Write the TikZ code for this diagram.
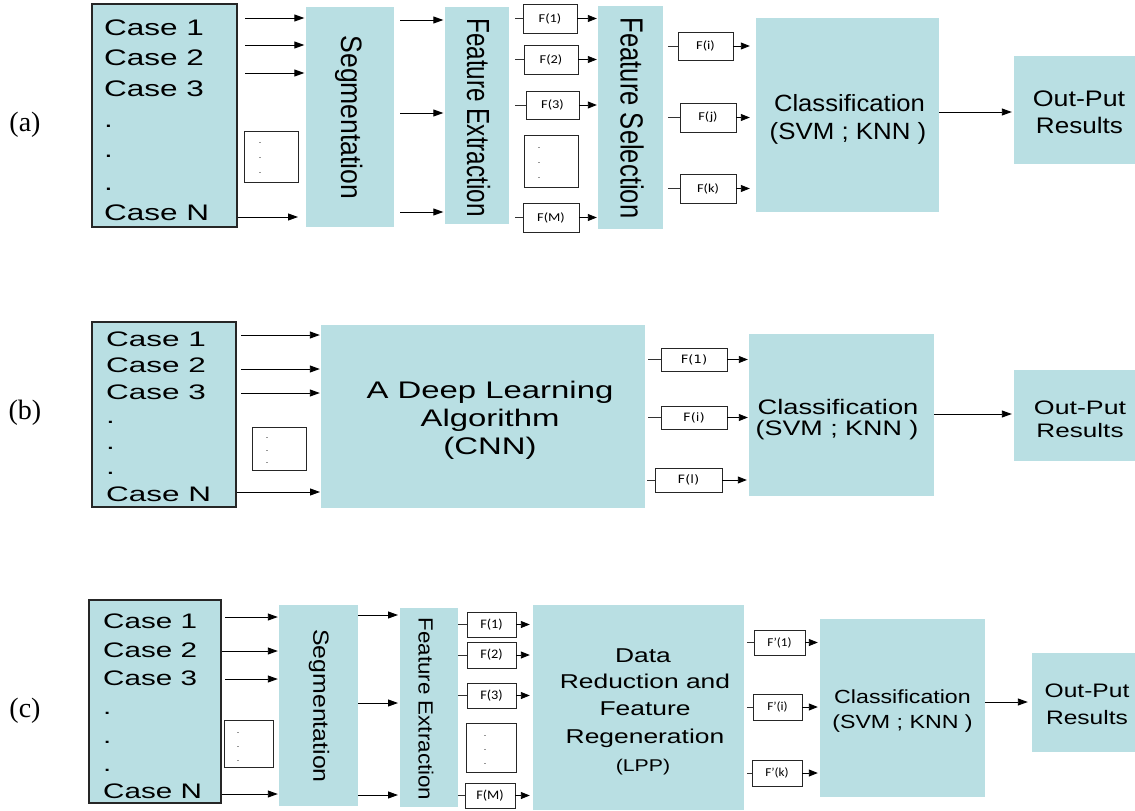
\documentclass[tikz,border=0pt]{standalone}
\usepackage{fontspec}
\setmainfont{Liberation Sans}
\newfontfamily\labelserif{Liberation Serif}
\newfontfamily\featfont{Carlito}
\newfontfamily\featfontb{DejaVu Sans}
\usepackage{graphicx}
\usetikzlibrary{arrows.meta}
\definecolor{boxteal}{RGB}{185,223,227}
% size, horizontal stretch, text
\newcommand\sizedtext[3]{{\fontsize{#1}{#1}\selectfont\scalebox{#2}[1]{#3}}}

\begin{document}
\begin{tikzpicture}[x=1pt,y=-1pt,
  tealbox/.style={rectangle, fill=boxteal, draw=none, inner sep=0pt},
  casebox/.style={rectangle, fill=boxteal, draw=black!85, line width=1.1pt, inner sep=0pt},
  featbox/.style={rectangle, fill=white, draw=black!85, line width=0.9pt, inner sep=0pt},
  txt/.style={inner sep=0pt, anchor=base},
  casetxt/.style={inner sep=0pt, anchor=base west},
  vtxt/.style={inner sep=0pt, rotate=-90},
  dotcol/.style={inner sep=0pt, align=center, font=\fontsize{9}{#1}\selectfont},
  panellabel/.style={inner sep=0pt, font=\labelserif\fontsize{28}{28}\selectfont},
  arr/.style={draw=black, line width=0.9pt, -{Triangle[length=10pt,width=7pt]}},
  farr/.style={draw=black, line width=0.9pt, -{Triangle[length=9pt,width=7pt]}},
  stub/.style={draw=black!80, line width=0.9pt}]
\useasboundingbox (0,0) rectangle (1135,811);

% ---------------- (a) classical pipeline ----------------
\node[panellabel] (lab-a) at (25,125) {(a)};

\node[casebox, minimum width=145, minimum height=223] (a-case) at (164.5,115.5) {};
\node[casetxt] (a-c1) at (104,35)  {\sizedtext{22.5}{1.4}{Case 1}};
\node[casetxt] (a-c2) at (104,65)  {\sizedtext{22.5}{1.4}{Case 2}};
\node[casetxt] (a-c3) at (104,96)  {\sizedtext{22.5}{1.4}{Case 3}};
\node[casetxt] (a-d1) at (104,127) {\sizedtext{22.5}{1.4}{.}};
\node[casetxt] (a-d2) at (104,157) {\sizedtext{22.5}{1.4}{.}};
\node[casetxt] (a-d3) at (104,190) {\sizedtext{22.5}{1.4}{.}};
\node[casetxt] (a-cN) at (104,220) {\sizedtext{22.5}{1.4}{Case N}};

\node[featbox, minimum width=54, minimum height=51] (a-dots) at (271,156.5) {};
\node[dotcol=15] (a-dotsv) at (260,158) {.\\.\\.};

\node[tealbox, minimum width=88, minimum height=220] (a-seg) at (350,117) {};
\node[vtxt] (a-segt) at (349.5,117.5) {\sizedtext{29.5}{0.9}{Segmentation}};

\coordinate (a-i1) at (245,18);
\coordinate (a-i2) at (245,45);
\coordinate (a-i3) at (245,73);
\coordinate (a-iN) at (298,217);
\draw[arr, shorten >=1.5pt] (a-i1) -- (a-i1 -| a-seg.west);
\draw[arr, shorten >=1.5pt] (a-i2) -- (a-i2 -| a-seg.west);
\draw[arr, shorten >=1.5pt] (a-i3) -- (a-i3 -| a-seg.west);
\draw[arr] (a-iN -| a-case.east) -- (a-iN);

\node[tealbox, minimum width=64, minimum height=217] (a-fe) at (477,115.5) {};
\node[vtxt] (a-fet) at (478.5,117.5) {\sizedtext{32}{0.76}{Feature Extraction}};

\coordinate (a-s1) at (400,20);
\coordinate (a-s2) at (400,113);
\coordinate (a-s3) at (400,212);
\draw[arr, shorten >=1.5pt] (a-s1) -- (a-s1 -| a-fe.west);
\draw[arr, shorten >=1.5pt] (a-s2) -- (a-s2 -| a-fe.west);
\draw[arr, shorten >=1.5pt] (a-s3) -- (a-s3 -| a-fe.west);

\node[tealbox, minimum width=65, minimum height=223] (a-fs) at (630.5,117.5) {};
\node[vtxt] (a-fst) at (632,118) {\sizedtext{32}{0.8}{Feature Selection}};

\node[featbox, minimum width=54, minimum height=29] (a-f1) at (550,18.5)  {\sizedtext{12}{1.2}{\featfont F(1)}};
\node[featbox, minimum width=54, minimum height=29] (a-f2) at (551,59.5)  {\sizedtext{12}{1.2}{\featfont F(2)}};
\node[featbox, minimum width=53, minimum height=28] (a-f3) at (552.5,105) {\sizedtext{12}{1.2}{\featfont F(3)}};
\node[featbox, minimum width=54, minimum height=52] (a-fd) at (551,161)   {};
\node[dotcol=15] (a-fdv) at (539,163) {.\\.\\.};
\node[featbox, minimum width=56, minimum height=29] (a-fM) at (551,217.5) {\sizedtext{12}{1.2}{\featfont F(M)}};

\draw[stub] (a-f1.west) -- ++(-8,0);
\draw[stub] (a-f2.west) -- ++(-9,0);
\draw[stub] (a-f3.west) -- ++(-11,0);
\draw[stub] (a-fM.west) -- ++(-8,0);
\draw[farr, shorten >=1pt] (a-f1.east) -- (a-f1.east -| a-fs.west);
\draw[farr, shorten >=1pt] (a-f2.east) -- (a-f2.east -| a-fs.west);
\draw[farr, shorten >=1pt] (a-f3.east) -- (a-f3.east -| a-fs.west);
\draw[farr, shorten >=1pt] (a-fM.east) -- (a-fM.east -| a-fs.west);

\node[tealbox, minimum width=183, minimum height=194] (a-cls) at (847.5,115) {};
\node[txt] (a-clst1) at (849.5,111) {\sizedtext{23.5}{1.09}{Classification}};
\node[txt] (a-clst2) at (848,139)   {\sizedtext{23.5}{1.1}{(SVM ; KNN )}};

\node[featbox, minimum width=55, minimum height=28] (a-fi) at (705.5,46)  {\sizedtext{12}{1.2}{\featfont F(i)}};
\node[featbox, minimum width=56, minimum height=29] (a-fj) at (708,117.5) {\sizedtext{12}{1.2}{\featfont F(j)}};
\node[featbox, minimum width=56, minimum height=29] (a-fk) at (708,188.5) {\sizedtext{12}{1.2}{\featfont F(k)}};
\draw[stub] (a-fi.west) -- ++(-10,0);
\draw[stub] (a-fj.west) -- ++(-12,0);
\draw[stub] (a-fk.west) -- ++(-12,0);
\draw[farr, shorten >=6pt] (a-fi.east) -- (a-fi.east -| a-cls.west);
\draw[farr, shorten >=6pt] (a-fj.east) -- (a-fj.east -| a-cls.west);
\draw[farr, shorten >=6pt] (a-fk.east) -- (a-fk.east -| a-cls.west);

\node[tealbox, minimum width=121, minimum height=108] (a-out) at (1074.5,110) {};
\node[txt] (a-outt1) at (1079,106)   {\sizedtext{22.5}{1.19}{Out-Put}};
\node[txt] (a-outt2) at (1079.5,133) {\sizedtext{22.5}{1.16}{Results}};
\draw[arr, shorten >=2pt] ([yshift=3pt]a-cls.east) -- ([yshift=3pt]a-cls.east -| a-out.west);

% ---------------- (b) deep learning pipeline ----------------
\node[panellabel] (lab-b) at (25,413) {(b)};

\node[casebox, minimum width=144, minimum height=185] (b-case) at (164,414.5) {};
\node[casetxt] (b-c1) at (106,346.5) {\sizedtext{21}{1.5}{Case 1}};
\node[casetxt] (b-c2) at (106,372.5) {\sizedtext{21}{1.5}{Case 2}};
\node[casetxt] (b-c3) at (106,399.5) {\sizedtext{21}{1.5}{Case 3}};
\node[casetxt] (b-d1) at (106,423)   {\sizedtext{21}{1.5}{.}};
\node[casetxt] (b-d2) at (106,449)   {\sizedtext{21}{1.5}{.}};
\node[casetxt] (b-d3) at (106,474)   {\sizedtext{21}{1.5}{.}};
\node[casetxt] (b-cN) at (106,501.5) {\sizedtext{21}{1.5}{Case N}};

\node[featbox, minimum width=54, minimum height=43] (b-dots) at (279,448.5) {};
\node[dotcol=12.5] (b-dotsv) at (267,451) {.\\.\\.};

\node[tealbox, minimum width=324, minimum height=183] (b-dl) at (483,416.5) {};
\node[txt] (b-dlt1) at (490,398) {\sizedtext{24}{1.37}{A Deep Learning}};
\node[txt] (b-dlt2) at (490,426) {\sizedtext{24}{1.37}{Algorithm}};
\node[txt] (b-dlt3) at (490,454) {\sizedtext{24}{1.37}{(CNN)}};

\coordinate (b-i1) at (241,335);
\coordinate (b-i2) at (241,369);
\coordinate (b-i3) at (241,393);
\coordinate (b-iN) at (320,492);
\draw[arr, shorten >=1pt] (b-i1) -- (b-i1 -| b-dl.west);
\draw[arr, shorten >=1pt] (b-i2) -- (b-i2 -| b-dl.west);
\draw[arr, shorten >=1pt] (b-i3) -- (b-i3 -| b-dl.west);
\draw[arr] (b-iN -| b-case.east) -- (b-iN);

\node[tealbox, minimum width=185, minimum height=162] (b-cls) at (841.5,415) {};
\node[txt] (b-clst1) at (838,414) {\sizedtext{21}{1.3}{Classification}};
\node[txt] (b-clst2) at (837,435) {\sizedtext{21}{1.28}{(SVM ; KNN )}};

\node[featbox, minimum width=66, minimum height=23] (b-f1) at (694,359.5) {\sizedtext{11.5}{1.15}{\featfontb F(1)}};
\node[featbox, minimum width=66, minimum height=23] (b-fi) at (694,417.5) {\sizedtext{11.5}{1.15}{\featfontb F(i)}};
\node[featbox, minimum width=67, minimum height=24] (b-fl) at (688.5,480) {\sizedtext{11.5}{1.15}{\featfontb F(l)}};
\draw[stub] (b-f1.west) -- ++(-13,0);
\draw[stub] (b-fi.west) -- ++(-13,0);
\draw[stub] (b-fl.west) -- ++(-8,0);
\draw[farr, shorten >=1pt] (b-f1.east) -- (b-f1.east -| b-cls.west);
\draw[farr, shorten >=1pt] (b-fi.east) -- (b-fi.east -| b-cls.west);
\draw[farr, shorten >=2pt] (b-fl.east) -- (b-fl.east -| b-cls.west);

\node[tealbox, minimum width=121, minimum height=91] (b-out) at (1074.5,415.5) {};
\node[txt] (b-outt1) at (1080,414) {\sizedtext{19.5}{1.37}{Out-Put}};
\node[txt] (b-outt2) at (1080,437) {\sizedtext{19.5}{1.34}{Results}};
\draw[arr, shorten >=2pt] ([yshift=1pt]b-cls.east) -- ([yshift=1pt]b-cls.east -| b-out.west);

% ---------------- (c) LPP pipeline ----------------
\node[panellabel] (lab-c) at (25,711) {(c)};

\node[casebox, minimum width=132, minimum height=203] (c-case) at (155,701.5) {};
\node[casetxt] (c-c1) at (103,628) {\sizedtext{21}{1.41}{Case 1}};
\node[casetxt] (c-c2) at (103,657) {\sizedtext{21}{1.41}{Case 2}};
\node[casetxt] (c-c3) at (103,685) {\sizedtext{21}{1.41}{Case 3}};
\node[casetxt] (c-d1) at (103,714) {\sizedtext{21}{1.41}{.}};
\node[casetxt] (c-d2) at (103,743) {\sizedtext{21}{1.41}{.}};
\node[casetxt] (c-d3) at (103,771) {\sizedtext{21}{1.41}{.}};
\node[casetxt] (c-cN) at (103,798) {\sizedtext{21}{1.41}{Case N}};

\node[featbox, minimum width=49, minimum height=47] (c-dots) at (248.5,743.5) {};
\node[dotcol=14] (c-dotsv) at (238,747) {.\\.\\.};

\node[tealbox, minimum width=79, minimum height=201] (c-seg) at (318.5,705.5) {};
\node[vtxt] (c-segt) at (319,706) {\sizedtext{22}{1.13}{Segmentation}};

\coordinate (c-i1) at (225,617);
\coordinate (c-i2) at (222,651);
\coordinate (c-i3) at (225,679);
\coordinate (c-iN) at (222,794);
\draw[arr, shorten >=1pt] (c-i1) -- (c-i1 -| c-seg.west);
\draw[arr, shorten >=1pt] (c-i2) -- (c-i2 -| c-seg.west);
\draw[arr, shorten >=1pt] (c-i3) -- (c-i3 -| c-seg.west);
\draw[arr, shorten >=1pt] (c-iN) -- (c-iN -| c-seg.west);

\node[tealbox, minimum width=58, minimum height=199] (c-fe) at (429,707.5) {};
\node[vtxt] (c-fet) at (426,709) {\sizedtext{20.5}{1.09}{Feature Extraction}};

\coordinate (c-s1) at (398,615);
\coordinate (c-s2) at (398,703);
\coordinate (c-s3) at (398,795);
\draw[arr] (c-s1 -| c-seg.east) -- (c-s1);
\draw[arr] (c-s2 -| c-seg.east) -- (c-s2);
\draw[arr] (c-s3 -| c-seg.east) -- (c-s3);

\node[tealbox, minimum width=211, minimum height=205] (c-dr) at (638.5,707.5) {};
\node[txt] (c-drt1) at (643,662) {\sizedtext{20}{1.32}{Data}};
\node[txt] (c-drt2) at (645,688) {\sizedtext{20}{1.32}{Reduction and}};
\node[txt] (c-drt3) at (645,715) {\sizedtext{20}{1.32}{Feature}};
\node[txt] (c-drt4) at (645,743) {\sizedtext{20}{1.32}{Regeneration}};
\node[txt] (c-drt5) at (643,771) {\sizedtext{17}{1.25}{(LPP)}};

\node[featbox, minimum width=49, minimum height=25] (c-f1) at (491.5,624.5) {\sizedtext{13}{1.1}{\featfont F(1)}};
\node[featbox, minimum width=49, minimum height=26] (c-f2) at (491.5,655)   {\sizedtext{13}{1.1}{\featfont F(2)}};
\node[featbox, minimum width=49, minimum height=25] (c-f3) at (491.5,695.5) {\sizedtext{13}{1.1}{\featfont F(3)}};
\node[featbox, minimum width=50, minimum height=49] (c-fd) at (491,747.5)   {};
\node[dotcol=14] (c-fdv) at (485,750) {.\\.\\.};
\node[featbox, minimum width=50, minimum height=25] (c-fM) at (490,795.5)   {\sizedtext{13}{1.1}{\featfont F(M)}};
\draw[stub] (c-f1.west -| c-fe.east) -- (c-f1.west);
\draw[stub] (c-f2.west -| c-fe.east) -- (c-f2.west);
\draw[stub] (c-f3.west -| c-fe.east) -- (c-f3.west);
\draw[stub] (c-fM.west -| c-fe.east) -- (c-fM.west);
\draw[farr, shorten >=3pt] (c-f1.east) -- (c-f1.east -| c-dr.west);
\draw[farr, shorten >=3pt] (c-f2.east) -- (c-f2.east -| c-dr.west);
\draw[farr, shorten >=3pt] (c-f3.east) -- (c-f3.east -| c-dr.west);
\draw[farr, shorten >=3pt] (c-fM.east) -- (c-fM.east -| c-dr.west);

\node[tealbox, minimum width=165, minimum height=178] (c-cls) at (902.5,708) {};
\node[txt] (c-clst1) at (902.5,703) {\sizedtext{19}{1.22}{Classification}};
\node[txt] (c-clst2) at (902.5,728) {\sizedtext{19}{1.22}{(SVM ; KNN )}};

\node[featbox, minimum width=51, minimum height=25] (c-g1) at (779.5,642.5) {\sizedtext{12}{1.1}{\featfont F’(1)}};
\node[featbox, minimum width=49, minimum height=26] (c-gi) at (777.5,707)   {\sizedtext{12}{1.1}{\featfont F’(i)}};
\node[featbox, minimum width=50, minimum height=26] (c-gk) at (777,773)     {\sizedtext{12}{1.1}{\featfont F’(k)}};
\draw[stub] (c-g1.west) -- ++(-7,0);
\draw[stub] (c-gi.west) -- ++(-6,0);
\draw[stub] (c-gk.west) -- ++(-5,0);
\draw[farr, shorten >=2pt] (c-g1.east) -- (c-g1.east -| c-cls.west);
\draw[farr, shorten >=2pt] (c-gi.east) -- (c-gi.east -| c-cls.west);
\draw[farr, shorten >=2pt] (c-gk.east) -- (c-gk.east -| c-cls.west);

\node[tealbox, minimum width=103, minimum height=99] (c-out) at (1083.5,702.5) {};
\node[txt] (c-outt1) at (1087,697) {\sizedtext{19.5}{1.26}{Out-Put}};
\node[txt] (c-outt2) at (1087,724) {\sizedtext{19.5}{1.26}{Results}};
\draw[arr, shorten >=4pt] ([yshift=6pt]c-cls.east) -- ([yshift=6pt]c-cls.east -| c-out.west);
\end{tikzpicture}
\end{document}
